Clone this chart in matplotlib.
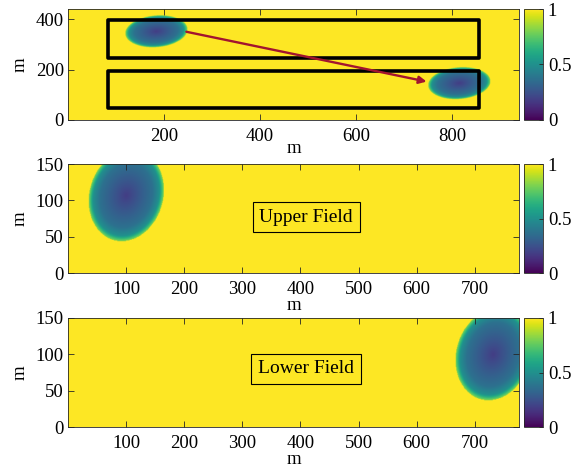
import numpy as np
import matplotlib
matplotlib.use('Agg')
import matplotlib.pyplot as plt

plt.rcParams['font.family'] = ['Liberation Serif', 'DejaVu Serif']
plt.rcParams['font.size'] = 13.5

# --- field geometry (m) ---
world_w, world_h = 940, 440
field_w, field_h = 776, 150

# rectangles drawn on the overview map: x0, y0, width, height
upper_rect = [84, 245, 772, 150]
lower_rect = [84, 46, 772, 150]

# blobs in local field coordinates: centre x, centre y
upper_blob = [100, 107]
lower_blob = [732, 100]
# ellipse shape: semi-major, semi-minor, angle (deg)
blob_axes = [68, 60, 40]
# radial profile of the value inside a blob
prof_r = [0.0, 0.7, 0.88, 1.0]
prof_v = [0.18, 0.37, 0.5, 0.82]

# trajectory arrow on the overview map
arrow_start = [241, 352]
arrow_end = [753, 150]

CMAP = 'viridis'


def field(xs, ys, centres):
    X, Y = np.meshgrid(xs, ys)
    a, b, ang = blob_axes
    th = np.deg2rad(ang)
    out = np.ones_like(X, dtype=float)
    for cx, cy in centres:
        dx, dy = X - cx, Y - cy
        u = dx * np.cos(th) + dy * np.sin(th)
        w = -dx * np.sin(th) + dy * np.cos(th)
        r = np.sqrt((u / a) ** 2 + (w / b) ** 2)
        v = np.where(r <= 1.0, np.interp(r, prof_r, prof_v), 1.0)
        out = np.minimum(out, v)
    return out


def style(ax):
    ax.tick_params(direction='in', length=4, width=0.6, top=True, right=True,
                   colors='#262626', labelcolor='black', pad=3)
    ax.tick_params(axis='x', pad=6)
    for s in ax.spines.values():
        s.set_color('#262626')
        s.set_linewidth(0.6)


fig = plt.figure(figsize=(5.77, 4.69), dpi=100)
L, W = 68 / 577, 451 / 577
CB_L, CB_W = 524 / 577, 19 / 577
rows = [(1 - 120 / 469, 111 / 469), (1 - 273 / 469, 109 / 469), (1 - 427 / 469, 109 / 469)]

# --- overview map ---
ax0 = fig.add_axes([L, rows[0][0], W, rows[0][1]])
xs = np.arange(0, world_w + 1, 1.0)
ys = np.arange(0, world_h + 1, 1.0)
world_centres = [(upper_rect[0] + upper_blob[0], upper_rect[1] + upper_blob[1]),
                 (lower_rect[0] + lower_blob[0], lower_rect[1] + lower_blob[1])]
im = ax0.imshow(field(xs, ys, world_centres), origin='lower', extent=[0, world_w, 0, world_h],
                aspect='auto', cmap=CMAP, vmin=0, vmax=1, interpolation='bilinear')
for rx, ry, rw, rh in (upper_rect, lower_rect):
    ax0.add_patch(plt.Rectangle((rx, ry), rw, rh, fill=False, ec='black', lw=2.6, joinstyle='round'))
ax0.annotate('', xy=arrow_end, xytext=arrow_start,
             arrowprops=dict(arrowstyle='-|>', color='#A2142F', lw=1.7, mutation_scale=11))
ax0.set_xlim(0, world_w)
ax0.set_ylim(0, world_h)
ax0.set_xticks([200, 400, 600, 800])
ax0.set_yticks([0, 200, 400])
ax0.set_xlabel('m', labelpad=-4)
ax0.set_ylabel('m', labelpad=5)
style(ax0)

# --- upper and lower field ---
fx = np.arange(0, field_w + 1, 1.0)
fy = np.arange(0, field_h + 1, 1.0)
panels = [(upper_blob, 'Upper Field', 77), (lower_blob, 'Lower Field', 80)]
cbar_axes = [(ax0, im)]
for (blob, name, ty), (bot, h) in zip(panels, rows[1:]):
    ax = fig.add_axes([L, bot, W, h])
    im2 = ax.imshow(field(fx, fy, [blob]), origin='lower', extent=[0, field_w, 0, field_h],
                    aspect='auto', cmap=CMAP, vmin=0, vmax=1, interpolation='bilinear')
    ax.set_xlim(0, field_w)
    ax.set_ylim(0, field_h)
    ax.set_xticks([100, 200, 300, 400, 500, 600, 700])
    ax.set_yticks([0, 50, 100, 150])
    ax.set_xlabel('m', labelpad=-1)
    ax.set_ylabel('m', labelpad=5)
    ax.text(410, ty, name, ha='center', va='center', fontsize=14,
            bbox=dict(boxstyle='square,pad=0.35', fc='none', ec='black', lw=0.8))
    style(ax)
    cbar_axes.append((ax, im2))

for (ax, img), (bot, h) in zip(cbar_axes, rows):
    cax = fig.add_axes([CB_L, bot, CB_W, h])
    cb = fig.colorbar(img, cax=cax, ticks=[0, 0.5, 1])
    cb.ax.set_yticklabels(['0', '0.5', '1'])
    cb.ax.tick_params(direction='in', length=3, width=0.6, colors='#262626', labelcolor='black')
    cb.outline.set_edgecolor('#262626')
    cb.outline.set_linewidth(0.6)

fig.savefig('out.png', dpi=100)
